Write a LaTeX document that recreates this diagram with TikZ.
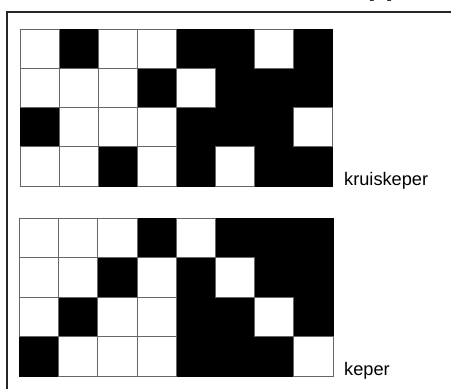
\documentclass[tikz,border=0pt]{standalone}
\usepackage{fontspec}
\setmainfont{Liberation Sans}
\tikzset{
  wcell/.style={fill=white,draw=black!60,line width=1pt},
  bcell/.style={fill=black,draw=black,line width=1pt},
  frameline/.style={draw=black!85,line width=1.5pt},
  lbl/.style={anchor=base west,inner sep=0pt,font=\fontsize{18.2}{20}\selectfont},
}
\begin{document}
\begin{tikzpicture}[x=1pt,y=-1pt]
\useasboundingbox (0,0) rectangle (451,389);
\clip (0,0) rectangle (451,389);
% cut-off heading above
\node[anchor=base west,inner sep=0pt,font=\fontsize{28}{30}\selectfont\bfseries] (head) at (368,-4.8) {pp};
% frame
\draw[frameline] (451,12) -- (7,12) -- (7,389);
% grid 1: kruiskeper
\foreach \row [count=\r from 0] in {{0,1,0,0,1,1,0,1},{0,0,0,1,0,1,1,1},{1,0,0,0,1,1,1,0},{0,0,1,0,1,0,1,1}}{
  \foreach \v [count=\c from 0] in \row {
    \ifnum\v=1
      \path[bcell] (20+\c*39.1,29+\r*39.25) rectangle ++(39.1,39.25);
    \fi
  }
}
\foreach \row [count=\r from 0] in {{0,1,0,0,1,1,0,1},{0,0,0,1,0,1,1,1},{1,0,0,0,1,1,1,0},{0,0,1,0,1,0,1,1}}{
  \foreach \v [count=\c from 0] in \row {
    \ifnum\v=0
      \path[wcell] (20+\c*39.1,29+\r*39.25) rectangle ++(39.1,39.25);
    \fi
  }
}
% grid 2: keper
\foreach \row [count=\r from 0] in {{0,0,0,1,0,1,1,1},{0,0,1,0,1,0,1,1},{0,1,0,0,1,1,0,1},{1,0,0,0,1,1,1,0}}{
  \foreach \v [count=\c from 0] in \row {
    \ifnum\v=1
      \path[bcell] (19.5+\c*39.19,218+\r*39.5) rectangle ++(39.19,39.5);
    \fi
  }
}
\foreach \row [count=\r from 0] in {{0,0,0,1,0,1,1,1},{0,0,1,0,1,0,1,1},{0,1,0,0,1,1,0,1},{1,0,0,0,1,1,1,0}}{
  \foreach \v [count=\c from 0] in \row {
    \ifnum\v=0
      \path[wcell] (19.5+\c*39.19,218+\r*39.5) rectangle ++(39.19,39.5);
    \fi
  }
}
% labels
\node[lbl] (kruis) at (344,185) {kruiskeper};
\node[lbl] (keper) at (344,375) {keper};
\end{tikzpicture}
\end{document}
